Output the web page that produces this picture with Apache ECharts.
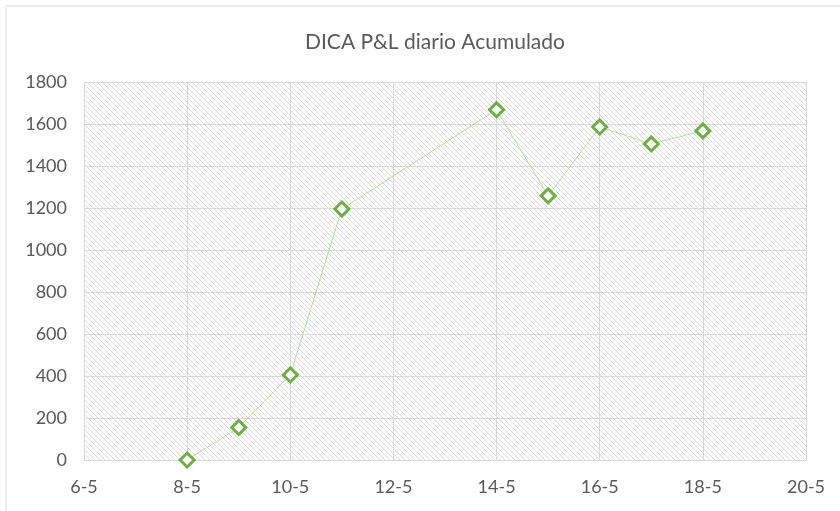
<!DOCTYPE html>
<html>
<head>
<meta charset="utf-8">
<script src="https://cdn.jsdelivr.net/npm/echarts@6/dist/echarts.min.js"></script>
<style>
  html, body { margin: 0; padding: 0; background: #fff; }
  #chart { width: 840px; height: 511px; }
</style>
</head>
<body>
<div id="chart"></div>
<script>
  // dias de mayo y P&L acumulado
  var days = [8, 9, 10, 11, 14, 15, 16, 17, 18];
  var pnl = [0, 155, 405, 1195, 1668, 1258, 1586, 1505, 1567];
  var titleText = 'DICA P&L diario Acumulado';
  var monthSuffix = '-5';

  // trama diagonal del area del grafico
  var hatch = document.createElement('canvas');
  hatch.width = 5;
  hatch.height = 5;
  var hctx = hatch.getContext('2d');
  hctx.fillStyle = '#ffffff';
  hctx.fillRect(0, 0, 5, 5);
  hctx.strokeStyle = '#dcdcdc';
  hctx.lineWidth = 1;
  hctx.beginPath();
  hctx.moveTo(-1, -1); hctx.lineTo(6, 6);
  hctx.moveTo(-1, 4); hctx.lineTo(1, 6);
  hctx.moveTo(4, -1); hctx.lineTo(6, 1);
  hctx.stroke();

  var myChart = echarts.init(document.getElementById('chart'));
  var labelColor = '#595959';
  var gridColor = '#d9d9d9';

  var option = {
    animation: false,
    backgroundColor: '#ffffff',
    title: {
      text: titleText,
      left: 300,
      top: 27,
      textStyle: {
        color: labelColor,
        fontFamily: 'Lato',
        fontSize: 21,
        fontWeight: 'normal'
      }
    },
    graphic: [{
      type: 'rect',
      shape: { x: 6, y: 6, width: 850, height: 520 },
      style: { fill: 'none', stroke: '#d9d9d9', lineWidth: 1 }
    }],
    grid: {
      show: true,
      left: 84,
      right: 34,
      top: 82,
      bottom: 51,
      borderWidth: 0,
      backgroundColor: { image: hatch, repeat: 'repeat' }
    },
    xAxis: {
      type: 'value',
      min: 6,
      max: 20,
      interval: 2,
      axisLine: { show: true, lineStyle: { color: gridColor } },
      axisTick: { show: false },
      splitLine: { show: true, lineStyle: { color: gridColor, width: 1 } },
      axisLabel: {
        color: labelColor,
        fontFamily: 'Lato',
        fontSize: 18,
        margin: 18,
        formatter: function (v) { return v + monthSuffix; }
      }
    },
    yAxis: {
      type: 'value',
      min: 0,
      max: 1800,
      interval: 200,
      axisLine: { show: false },
      axisTick: { show: false },
      splitLine: { show: true, lineStyle: { color: gridColor, width: 1 } },
      axisLabel: {
        color: labelColor,
        fontFamily: 'Lato',
        fontSize: 18,
        margin: 17,
        formatter: function (v) { return String(v); }
      }
    },
    series: [{
      type: 'line',
      data: days.map(function (d, i) { return [d, pnl[i]]; }),
      symbol: 'diamond',
      symbolSize: 14,
      showAllSymbol: true,
      lineStyle: { color: '#b8dba0', width: 1 },
      itemStyle: { color: '#ffffff', borderColor: '#70ad47', borderWidth: 3 }
    }]
  };

  myChart.setOption(option);
</script>
</body>
</html>
